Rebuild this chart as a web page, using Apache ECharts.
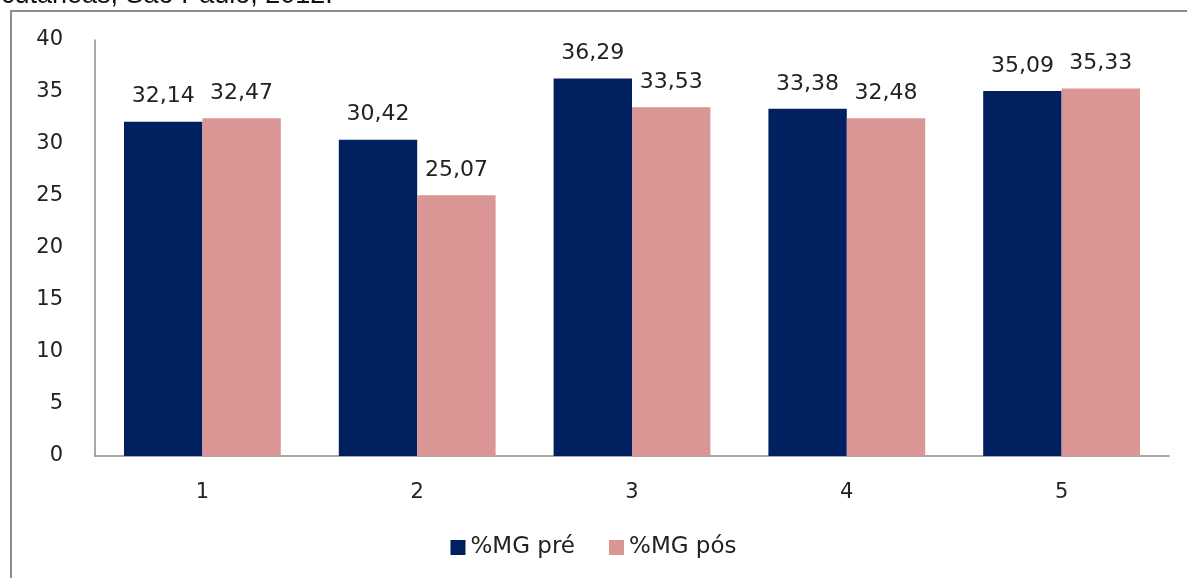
<!DOCTYPE html>
<html>
<head>
<meta charset="utf-8">
<script src="https://cdn.jsdelivr.net/npm/echarts@6/dist/echarts.min.js"></script>
<style>html,body{margin:0;padding:0;background:#fff}#c{width:1187px;height:578px}</style>
</head>
<body>
<div id="c"></div>
<script>
const categories = ['1', '2', '3', '4', '5'];
const seriesNames = ['%MG pré', '%MG pós'];
const preValues = [32.14, 30.42, 36.29, 33.38, 35.09];
const posValues = [32.47, 25.07, 33.53, 32.48, 35.33];
const yTicks = { min: 0, max: 40, interval: 5 };
const captionText = 'cutâneas, São Paulo, 2012.';

const chart = echarts.init(document.getElementById('c'), null, { renderer: 'canvas' });
const fmt = p => p.value.toFixed(2).replace('.', ',');
const labelStyle = {
  show: true, position: 'top', distance: 14, formatter: fmt,
  fontFamily: 'DejaVu Sans', fontSize: 22, color: '#222'
};
chart.setOption({
  animation: false,
  backgroundColor: '#fff',
  graphic: [
    { type: 'polyline', shape: { points: [[11, 578], [11, 11], [1187, 11]] },
      style: { stroke: '#8c8c8c', lineWidth: 2, fill: null } },
    { type: 'text', left: 1, top: -18,
      style: { text: captionText, font: '27px "Liberation Sans"', fill: '#111' } }
  ],
  grid: { left: 95, right: 18, top: 40, bottom: 122, containLabel: false },
  legend: {
    bottom: 14, left: 'center', itemWidth: 15, itemHeight: 15, itemGap: 34,
    icon: 'rect',
    textStyle: { fontFamily: 'DejaVu Sans', fontSize: 23, color: '#222' },
    data: seriesNames
  },
  xAxis: {
    type: 'category', data: categories,
    axisLine: { lineStyle: { color: '#8c8c8c', width: 1.5 } },
    axisTick: { show: false },
    axisLabel: { margin: 26, fontFamily: 'DejaVu Sans', fontSize: 21, color: '#222' }
  },
  yAxis: {
    type: 'value', min: yTicks.min, max: yTicks.max, interval: yTicks.interval,
    axisLine: { show: true, lineStyle: { color: '#8c8c8c', width: 1.5 } },
    axisTick: { show: false },
    splitLine: { show: false },
    axisLabel: { margin: 32, fontFamily: 'DejaVu Sans', fontSize: 21, color: '#222' }
  },
  series: [
    { name: seriesNames[0], type: 'bar', data: preValues, barGap: '0%', barCategoryGap: '27%',
      itemStyle: { color: '#002060' }, label: labelStyle },
    { name: seriesNames[1], type: 'bar', data: posValues, barGap: '0%', barCategoryGap: '27%',
      itemStyle: { color: '#D99694' }, label: labelStyle }
  ]
});
</script>
</body>
</html>
